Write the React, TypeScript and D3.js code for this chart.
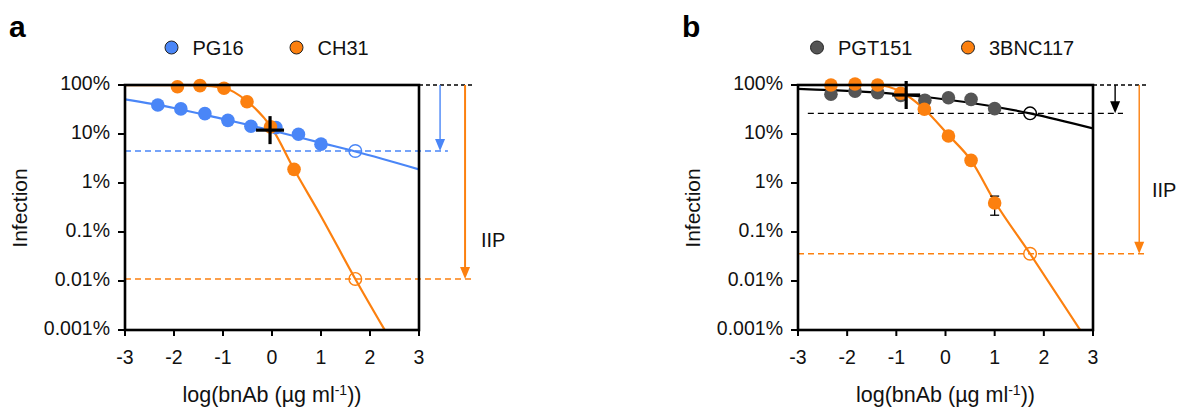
import React from "react";
import * as d3 from "d3";

// ---------- shared axis data ----------
const xTicks = [-3, -2, -1, 0, 1, 2, 3];
const yTicks = [100, 10, 1, 0.1, 0.01, 0.001];
const yTickLabels = ["100%", "10%", "1%", "0.1%", "0.01%", "0.001%"];

// ---------- panel a ----------
const pg16LogConc = [-2.33, -1.86, -1.37, -0.9, -0.43, 0.08, 0.54, 1.0];
const pg16Infection = [39, 32.5, 26, 19, 14.4, 13.5, 9.9, 6.2];
const pg16ErrLo = [35, null, null, null, null, null, null, null];
const pg16ErrHi = [43, null, null, null, null, null, null, null];
const pg16FitLogConc = [-3, -2, -1, 0, 1, 1.7, 3];
const pg16FitInfection = [51, 34, 20.2, 11.8, 6.6, 4.4, 1.9];

const ch31LogConc = [-1.93, -1.47, -0.98, -0.51, -0.03, 0.45];
const ch31Infection = [92, 97, 86, 45.6, 14, 1.9];
const ch31FitLogConc = [-3, -2, -1.5, -1, -0.5, 0, 0.45, 1, 1.7, 2.3];
const ch31FitInfection = [99, 99, 98, 88, 46, 13, 1.9, 0.21, 0.011, 0.001];

// ---------- panel b ----------
const pgt151LogConc = [-2.33, -1.84, -1.38, -0.91, -0.42, 0.06, 0.52, 1.0];
const pgt151Infection = [65, 75, 70, 61, 49, 55, 51, 33];
const pgt151FitLogConc = [-3, -0.79, 1.72, 3];
const pgt151FitInfection = [83, 62.5, 26.4, 13];

const bnc117LogConc = [-2.33, -1.84, -1.38, -0.91, -0.43, 0.06, 0.52, 1.0];
const bnc117Infection = [100, 105, 100, 68, 32, 9.1, 2.9, 0.39];
const bnc117ErrLo = [null, null, null, null, null, null, null, 0.22];
const bnc117ErrHi = [null, null, null, null, null, null, null, 0.54];
const bnc117FitLogConc = [-3, -1.4, -0.9, -0.43, 0.06, 0.52, 1.0, 1.72, 2.74];
const bnc117FitInfection = [100, 100, 72, 32, 9.5, 2.9, 0.42, 0.036, 0.001];

// open-circle IIP readouts (log conc, infection)
const iipA = [
  { name: "PG16", x: 1.7, y: 4.5 },
  { name: "CH31", x: 1.7, y: 0.011 },
];
const iipB = [
  { name: "PGT151", x: 1.72, y: 26.4 },
  { name: "3BNC117", x: 1.72, y: 0.036 },
];
// IC50 crosshair
const ic50A = { x: -0.04, y: 12 };
const ic50B = { x: -0.8, y: 62.5 };

const BLUE = "#4a86f7";
const ORANGE = "#fc800f";
const GREY = "#555555";
const FONT = "'Liberation Sans', Arial, Helvetica, sans-serif";

type Series = {
  name: string;
  color: string;
  x: number[];
  y: number[];
  lo?: (number | null)[];
  hi?: (number | null)[];
  fitX: number[];
  fitY: number[];
  fitColor: string;
};

type Ref = {
  y: number;
  x0: number;
  x1: number;
  color: string;
  arrowX: number;
  arrowWidth: number;
};

type PanelProps = {
  id: string;
  letter: string;
  letterX: number;
  left: number;
  right: number;
  series: Series[];
  iip: { name: string; x: number; y: number }[];
  ic50: { x: number; y: number };
  refs: Ref[];
  topDashEnd: number;
  iipTextX: number;
  iipTextY: number;
  legendX: number[];
};

const TOP = 85;
const BOTTOM = 330;

function Panel(p: PanelProps) {
  const x = d3.scaleLinear().domain([-3, 3]).range([p.left, p.right]);
  const y = d3.scaleLog().domain([100, 0.001]).range([TOP, BOTTOM]);
  const line = d3
    .line<[number, number]>()
    .x((d) => x(d[0]))
    .y((d) => y(d[1]))
    .curve(d3.curveMonotoneX);
  const clipId = `clip-${p.id}`;
  const cx = (p.left + p.right) / 2;
  const R = 6.8;

  return (
    <g>
      <defs>
        <clipPath id={clipId}>
          <rect x={p.left} y={TOP - 10} width={p.right - p.left} height={BOTTOM - TOP + 10} />
        </clipPath>
      </defs>
      {/* panel letter */}
      <text x={p.letterX} y={37} fontFamily={FONT} fontWeight="bold" fontSize={30}>
        {p.letter}
      </text>
      {/* legend */}
      {p.series.map((s, i) => (
        <g key={s.name}>
          <circle cx={p.legendX[i]} cy={47.5} r={6.5} fill={s.color} stroke="#222" strokeWidth={1} />
          <text x={p.legendX[i] + 21} y={54.5} fontFamily={FONT} fontSize={20} fill="#111">
            {s.name}
          </text>
        </g>
      ))}
      {/* top dashed extension */}
      <line x1={p.right} x2={x(p.topDashEnd)} y1={y(100)} y2={y(100)} stroke="#000" strokeWidth={1.3} strokeDasharray="4,3" />
      {/* reference dashed lines */}
      {p.refs.map((r, i) => (
        <line key={"r" + i} x1={x(r.x0)} x2={x(r.x1)} y1={y(r.y)} y2={y(r.y)} stroke={r.color} strokeWidth={1.4} strokeDasharray="6,4" />
      ))}
      {/* arrows */}
      {p.refs.map((r, i) => {
        const ax = x(r.arrowX);
        const yEnd = y(r.y);
        return (
          <g key={"a" + i}>
            <line x1={ax} x2={ax} y1={y(100)} y2={yEnd - 10} stroke={r.color} strokeWidth={r.arrowWidth} />
            <path d={`M${ax - 5},${yEnd - 12} L${ax + 5},${yEnd - 12} L${ax},${yEnd} Z`} fill={r.color} />
          </g>
        );
      })}
      <text x={p.iipTextX} y={p.iipTextY} fontFamily={FONT} fontSize={20} fill="#111" dominantBaseline="middle">
        IIP
      </text>
      {/* fit curves */}
      <g clipPath={`url(#${clipId})`}>
        {p.series.map((s) => (
          <path
            key={"f" + s.name}
            d={line(s.fitX.map((v, i) => [v, s.fitY[i]] as [number, number])) || ""}
            fill="none"
            stroke={s.fitColor}
            strokeWidth={2.2}
          />
        ))}
      </g>
      {/* error bars */}
      {p.series.map((s) =>
        s.x.map((v, i) => {
          const lo = s.lo ? s.lo[i] : null;
          const hi = s.hi ? s.hi[i] : null;
          if (lo == null || hi == null) return null;
          const px = x(v);
          return (
            <g key={"e" + s.name + i} stroke="#000" strokeWidth={1.3}>
              <line x1={px} x2={px} y1={y(hi)} y2={y(lo)} />
              <line x1={px - 4.5} x2={px + 4.5} y1={y(hi)} y2={y(hi)} />
              <line x1={px - 4.5} x2={px + 4.5} y1={y(lo)} y2={y(lo)} />
            </g>
          );
        })
      )}
      {/* data points */}
      {p.series.map((s) =>
        s.x.map((v, i) => <circle key={"p" + s.name + i} cx={x(v)} cy={y(s.y[i])} r={R} fill={s.color} />)
      )}
      {/* open circles */}
      {p.iip.map((o, i) => (
        <circle key={"o" + i} cx={x(o.x)} cy={y(o.y)} r={6.3} fill="none" stroke={p.series[i].fitColor} strokeWidth={1.4} />
      ))}
      {/* IC50 crosshair */}
      <g stroke="#000" strokeWidth={3.2}>
        <line x1={x(p.ic50.x) - 14} x2={x(p.ic50.x) + 14} y1={y(p.ic50.y)} y2={y(p.ic50.y)} />
        <line x1={x(p.ic50.x)} x2={x(p.ic50.x)} y1={y(p.ic50.y) - 14} y2={y(p.ic50.y) + 14} />
      </g>
      {/* frame */}
      <rect x={p.left} y={TOP} width={p.right - p.left} height={BOTTOM - TOP} fill="none" stroke="#000" strokeWidth={2.6} />
      {/* y ticks */}
      {yTicks.map((t, i) => (
        <g key={"yt" + i}>
          <line x1={p.left - 7} x2={p.left} y1={y(t)} y2={y(t)} stroke="#000" strokeWidth={2} />
          <text x={p.left - 15} y={y(t)} textAnchor="end" dominantBaseline="middle" fontFamily={FONT} fontSize={19.5} fill="#111">
            {yTickLabels[i]}
          </text>
        </g>
      ))}
      {/* x ticks */}
      {xTicks.map((t) => (
        <g key={"xt" + t}>
          <line x1={x(t)} x2={x(t)} y1={BOTTOM} y2={BOTTOM + 6} stroke="#000" strokeWidth={2} />
          <text x={x(t)} y={364} textAnchor="middle" fontFamily={FONT} fontSize={19.5} fill="#111">
            {t}
          </text>
        </g>
      ))}
      {/* axis titles */}
      <text x={cx} y={402} textAnchor="middle" fontFamily={FONT} fontSize={21.5} fill="#111">
        log(bnAb (µg ml
        <tspan fontSize={14} dy={-7}>-1</tspan>
        <tspan dy={7}>))</tspan>
      </text>
      <text
        transform={`translate(${p.left - 104},208) rotate(-90)`}
        textAnchor="middle"
        dominantBaseline="middle"
        fontFamily={FONT}
        fontSize={21}
        fill="#111"
      >
        Infection
      </text>
    </g>
  );
}

export default function App() {
  const seriesA: Series[] = [
    { name: "PG16", color: BLUE, x: pg16LogConc, y: pg16Infection, lo: pg16ErrLo, hi: pg16ErrHi, fitX: pg16FitLogConc, fitY: pg16FitInfection, fitColor: BLUE },
    { name: "CH31", color: ORANGE, x: ch31LogConc, y: ch31Infection, fitX: ch31FitLogConc, fitY: ch31FitInfection, fitColor: ORANGE },
  ];
  const seriesB: Series[] = [
    { name: "PGT151", color: GREY, x: pgt151LogConc, y: pgt151Infection, fitX: pgt151FitLogConc, fitY: pgt151FitInfection, fitColor: "#000" },
    { name: "3BNC117", color: ORANGE, x: bnc117LogConc, y: bnc117Infection, lo: bnc117ErrLo, hi: bnc117ErrHi, fitX: bnc117FitLogConc, fitY: bnc117FitInfection, fitColor: ORANGE },
  ];
  const refsA: Ref[] = [
    { y: iipA[0].y, x0: -3, x1: 3.59, color: BLUE, arrowX: 3.43, arrowWidth: 1.4 },
    { y: iipA[1].y, x0: -3, x1: 4.1, color: ORANGE, arrowX: 3.94, arrowWidth: 2 },
  ];
  const refsB: Ref[] = [
    { y: iipB[0].y, x0: -2.8, x1: 3.61, color: "#000", arrowX: 3.45, arrowWidth: 1.4 },
    { y: iipB[1].y, x0: -3, x1: 4.06, color: ORANGE, arrowX: 3.94, arrowWidth: 1.4 },
  ];
  return (
    <div style={{ position: "absolute", left: 0, top: 0 }}>
      <svg width={1180} height={410} style={{ display: "block", background: "#fff" }}>
        <Panel
          id="a"
          letter="a"
          letterX={9}
          left={125}
          right={419}
          series={seriesA}
          iip={iipA}
          ic50={ic50A}
          refs={refsA}
          topDashEnd={4.12}
          iipTextX={481}
          iipTextY={242}
          legendX={[171.5, 296.5]}
        />
        <Panel
          id="b"
          letter="b"
          letterX={682}
          left={798}
          right={1093}
          series={seriesB}
          iip={iipB}
          ic50={ic50B}
          refs={refsB}
          topDashEnd={4.12}
          iipTextX={1152}
          iipTextY={192}
          legendX={[817, 968]}
        />
      </svg>
    </div>
  );
}
